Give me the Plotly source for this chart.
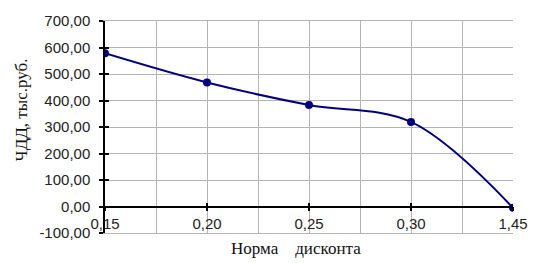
import plotly.graph_objects as go

categories = ["0,15", "0,20", "0,25", "0,30", "1,45"]
npv_values = [578, 468, 383, 319, -5]
y_tick_values = [-100, 0, 100, 200, 300, 400, 500, 600, 700]
y_tick_labels = ["-100,00", "0,00", "100,00", "200,00", "300,00", "400,00", "500,00", "600,00", "700,00"]

x_idx = list(range(len(categories)))
GRID = "#b4b4b4"
NAVY = "#00007f"
TICKFONT = dict(family="Liberation Sans, Arial", size=15, color="#222")
SERIF = dict(family="Liberation Serif, Times New Roman", size=17, color="#111")

fig = go.Figure()
# helper traces so the overlay axes render
fig.add_trace(go.Scatter(x=x_idx, y=npv_values, xaxis="x2", yaxis="y", mode="lines",
                         line=dict(color="rgba(0,0,0,0)"), hoverinfo="skip", showlegend=False))
fig.add_trace(go.Scatter(x=x_idx, y=npv_values, xaxis="x3", yaxis="y", mode="lines",
                         line=dict(color="rgba(0,0,0,0)"), hoverinfo="skip", showlegend=False))
fig.add_trace(go.Scatter(x=x_idx, y=npv_values, xaxis="x", yaxis="y2", mode="lines",
                         line=dict(color="rgba(0,0,0,0)"), hoverinfo="skip", showlegend=False))
# data
fig.add_trace(go.Scatter(x=x_idx, y=npv_values, mode="lines+markers",
                         line=dict(color=NAVY, width=2, shape="spline", smoothing=1),
                         marker=dict(color=NAVY, size=8), showlegend=False))

yr = [-100, 700]
zero_pos = (0 - yr[0]) / (yr[1] - yr[0])

fig.update_layout(
    width=540, height=263,
    margin=dict(l=105, r=23, t=16, b=30),
    paper_bgcolor="white", plot_bgcolor="white",
    xaxis=dict(range=[0, 4], showticklabels=False, ticks="",
               showgrid=True, gridcolor=GRID, gridwidth=1,
               tickmode="linear", tick0=0, dtick=0.5,
               zeroline=False, showline=True, mirror=True, linecolor=GRID, linewidth=1),
    xaxis2=dict(overlaying="x", anchor="free", position=zero_pos, side="bottom",
                range=[0, 4], tickmode="array", tickvals=x_idx, ticktext=categories,
                ticks="outside", ticklen=4, tickcolor="black", tickwidth=1.5,
                showline=True, linecolor="black", linewidth=1.5, showgrid=False,
                zeroline=False, tickfont=TICKFONT, ticklabelstandoff=0),
    xaxis3=dict(overlaying="x", anchor="free", position=zero_pos, side="bottom",
                range=[0, 4], tickmode="array", tickvals=x_idx, ticktext=[""] * len(x_idx),
                ticks="inside", ticklen=4, tickcolor="black", tickwidth=1.5,
                showline=False, showgrid=False, zeroline=False, showticklabels=False),
    yaxis=dict(range=yr, tickmode="array", tickvals=y_tick_values, ticktext=y_tick_labels,
               ticks="outside", ticklen=4, tickcolor="black", tickwidth=1.5,
               showgrid=True, gridcolor=GRID, gridwidth=1,
               zeroline=False, showline=True, linecolor="black", linewidth=1.5,
               tickfont=TICKFONT, ticklabelstandoff=6),
    yaxis2=dict(overlaying="y", side="left", range=yr, tickmode="array",
                tickvals=y_tick_values, showticklabels=False,
                ticks="inside", ticklen=4, tickcolor="black", tickwidth=1.5,
                showgrid=False, zeroline=False, showline=False),
    annotations=[
        dict(text="ЧДД, тыс.руб.", textangle=-90, xref="paper", yref="paper",
             x=-0.205, y=0.58, showarrow=False, font=SERIF, xanchor="center", yanchor="middle"),
        dict(text="Норма\u00a0\u00a0\u00a0\u00a0дисконта", xref="paper", yref="paper",
             x=0.468, y=-0.075, showarrow=False, font=SERIF, xanchor="center", yanchor="middle"),
    ],
)

fig.write_html("out.html")
